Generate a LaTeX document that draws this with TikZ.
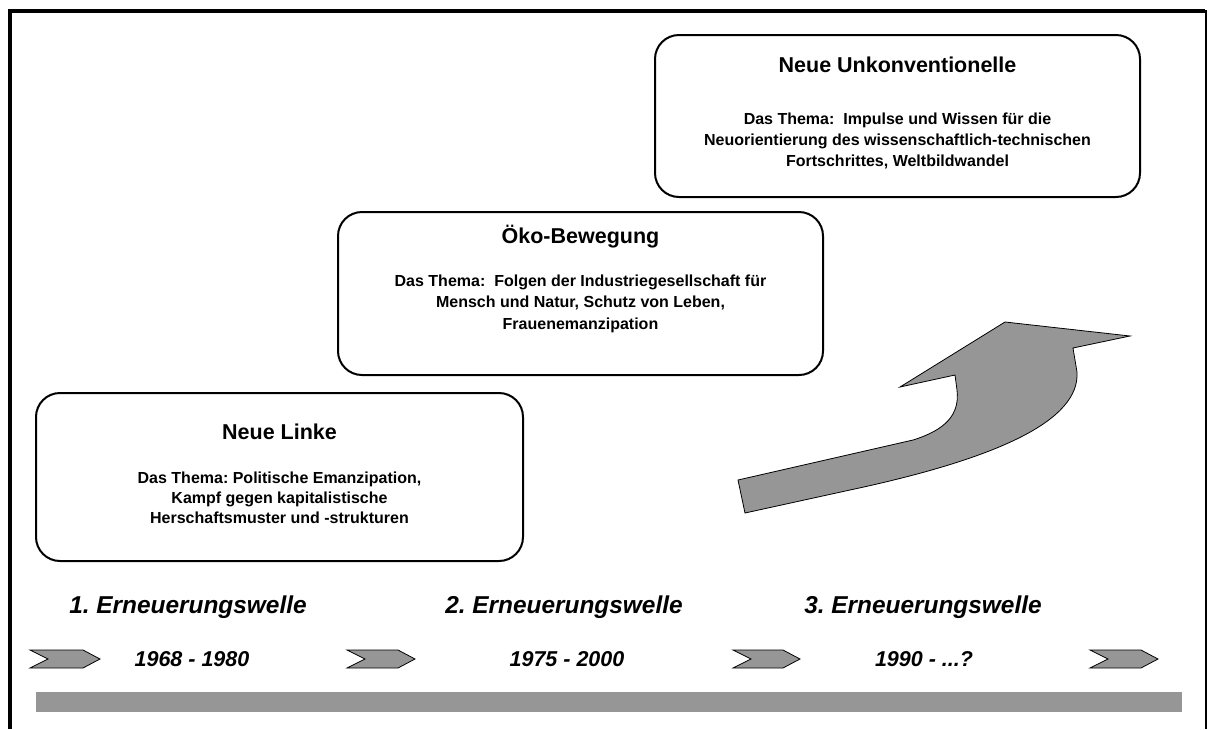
\documentclass[tikz,border=0pt]{standalone}
\usepackage{fontspec}
\setmainfont{Liberation Sans}
\frenchspacing

\definecolor{wavegray}{HTML}{969696}

\tikzset{
  themebox/.style={draw, line width=2pt, rounded corners=24pt, inner sep=0pt},
  boxtitle/.style={inner sep=0pt, font=\fontsize{21.5}{25}\selectfont\bfseries},
  boxbody/.style={inner sep=0pt, align=center, font=\fontsize{16}{20}\selectfont\bfseries},
  wavelabel/.style={inner sep=0pt, font=\fontsize{24.4}{28}\selectfont\bfseries\itshape},
  period/.style={inner sep=0pt, font=\fontsize{21.5}{25}\selectfont\bfseries\itshape},
  chevron/.style={draw, fill=wavegray, line width=0.8pt, line join=miter},
}

\begin{document}
\begin{tikzpicture}[x=1pt, y=-1pt]
\useasboundingbox (0,0) rectangle (1208,729);

% Rahmen
\draw[line width=4pt] (1205,11) -- (10,11) -- (10,729);
\draw[line width=2pt] (1206,10) -- (1206,729);

% Neue Linke
\node[themebox, minimum width=487pt, minimum height=168pt] (linke) at (279.5,477) {};
\node[boxtitle] (linketitle) at (279.5,432) {Neue Linke};
\node[boxbody, font=\fontsize{16}{20}\selectfont\bfseries] (linkebody) at (279.5,498)
 {Das Thema: Politische Emanzipation,\\Kampf gegen kapitalistische\\Herschaftsmuster und -strukturen};

% Oeko-Bewegung
\node[themebox, minimum width=485pt, minimum height=163pt] (oeko) at (580.5,293.5) {};
\node[boxtitle] (oekotitle) at (580.5,237) {Öko-Bewegung};
\node[boxbody, font=\fontsize{16}{21.5}\selectfont\bfseries] (oekobody) at (580.5,303.5)
 {Das Thema:~ Folgen der Industriegesellschaft für\\Mensch und Natur, Schutz von Leben,\\Frauenemanzipation};

% Neue Unkonventionelle
\node[themebox, minimum width=485pt, minimum height=162pt] (unkonv) at (897.5,116) {};
\node[boxtitle] (unkonvtitle) at (897.5,65) {Neue Unkonventionelle};
\node[boxbody, font=\fontsize{16}{21}\selectfont\bfseries] (unkonvbody) at (897.5,141)
 {Das Thema:~ Impulse und Wissen für die\\Neuorientierung des wissenschaftlich-technischen\\Fortschrittes, Weltbildwandel};

% Grosser Pfeil
\draw[fill=wavegray, line width=0.8pt]
(738,480) -- (913,440)
.. controls (945,430) and (960,415) .. (957,390)
-- (955,375) -- (900,387) -- (1005,322) -- (1130,336) -- (1073,348)
-- (1077,372)
.. controls (1080,420) and (1000,458) .. (850,490)
-- (745,513) -- cycle;

% Erneuerungswellen
\node[wavelabel] (welle1) at (188,607) {1. Erneuerungswelle};
\node[wavelabel] (welle2) at (564,607) {2. Erneuerungswelle};
\node[wavelabel] (welle3) at (923,607) {3. Erneuerungswelle};

% Zeitraeume
\node[period] (zeit1) at (192,659) {1968 - 1980};
\node[period] (zeit2) at (567,659) {1975 - 2000};
\node[period] (zeit3) at (924,659) {1990 - ...?};

% Pfeilspitzen
\draw[chevron] (30,650) -- (83,650) -- (100,659) -- (83,668) -- (30,668) -- (48,659) -- cycle;
\draw[chevron] (347,650) -- (398,650) -- (415,659) -- (398,668) -- (347,668) -- (365,659) -- cycle;
\draw[chevron] (733,650) -- (783,650) -- (800,659) -- (783,668) -- (733,668) -- (751,659) -- cycle;
\draw[chevron] (1090,650) -- (1141,650) -- (1158,659) -- (1141,668) -- (1090,668) -- (1108,659) -- cycle;

% Zeitachse
\fill[wavegray] (36,692) rectangle (1182,712);

\end{tikzpicture}
\end{document}
